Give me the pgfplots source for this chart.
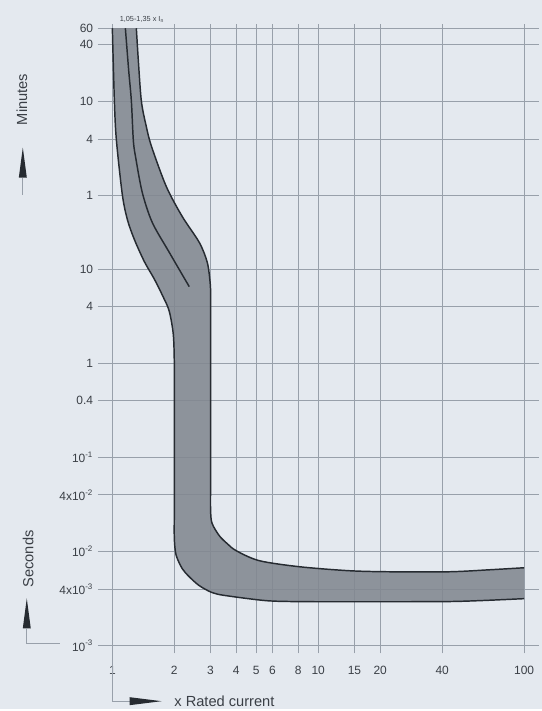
\documentclass[border=0pt]{standalone}
\usepackage{pgfplots}
\pgfplotsset{compat=1.18}
\usepgfplotslibrary{fillbetween}
\usepackage{fontspec}
\setmainfont{Liberation Sans}
\definecolor{bg}{HTML}{E4E9EF}
\definecolor{band}{HTML}{828890}
\definecolor{curve}{HTML}{262B31}
\definecolor{gridc}{HTML}{98A0AA}
\definecolor{txt}{HTML}{3A3F46}
\begin{document}
\begin{tikzpicture}
  \begin{axis}[
    scale only axis, width=331.5pt, height=473pt,
    xmode=log, ymode=log,
    xmin=0.85, xmax=118, ymin=8.3e-4, ymax=4000,
    axis line style={draw=none},
    major tick length=0pt,
    xtick={1,2,3,4,5,6,8,10,15,20,40,100},
    xticklabels={1,2,3,4,5,6,8,10,15,20,40,100},
    ytick={0.001,0.004,0.01,0.04,0.1,0.4,1,4,10,60,240,600,2400,3600},
    yticklabels={10\textsuperscript{-3},4x10\textsuperscript{-3},10\textsuperscript{-2},4x10\textsuperscript{-2},10\textsuperscript{-1},0.4,1,4,10,1,4,10,40,60},
    grid=major,
    major grid style={gridc, line width=0.6pt},
    ticklabel style={font=\fontsize{9}{10}\selectfont, text=txt},
    xticklabel style={yshift=-6pt},
    clip=false,
  ]
    % page background, also fixes the picture size
    \begin{pgfonlayer}{axis background}
      \fill[bg] ([xshift=-73.5pt,yshift=-42pt]axis description cs:0,0)
        rectangle ([xshift=2.25pt,yshift=18pt]axis description cs:1,1);
    \end{pgfonlayer}
    % lower (left) boundary
    \addplot[name path=L, curve, line width=1.1pt, smooth, tension=0.5] coordinates {
      (1.0,3600) (1.023,611) (1.046,236) (1.118,61.7) (1.183,33.5)
      (1.279,20.6) (1.43,12.0) (1.6,7.8) (1.77,5.0) (1.89,3.56)
      (1.977,2.03) (2.0,1.0) (2.0,0.4) (2.0,0.03) (2.0,0.014)
      (2.04,0.0092) (2.187,0.00657) (2.363,0.0054) (2.646,0.00434)
      (3.06,0.00366) (3.574,0.0034) (5.59,0.00301) (8.1,0.00294)
      (14.1,0.00293) (40,0.00294) (60.5,0.00301) (100,0.00316)
    };
    % upper (right) boundary
    \addplot[name path=R, curve, line width=1.1pt, smooth, tension=0.5] coordinates {
      (1.308,3600) (1.337,1660) (1.383,611) (1.46,330) (1.55,200)
      (1.829,75) (2.187,36) (2.646,19.1) (2.893,11.7) (2.99,6.9)
      (3.0,4.8) (3.0,1.0) (3.0,0.06) (3.0,0.028) (3.05,0.0200)
      (3.31,0.0147) (3.62,0.0121) (4.0,0.0102) (5.17,0.0080)
      (8.1,0.0069) (14.1,0.00626) (22.2,0.0061) (43.3,0.0061)
      (67.6,0.0064) (100,0.00673)
    };
    \addplot[fill=band, fill opacity=0.88, draw=none] fill between[of=L and R];
    % middle curve
    \addplot[curve, line width=1.1pt, smooth, tension=0.5] coordinates {
      (1.157,3600) (1.2,1300) (1.237,611) (1.265,230) (1.30,150)
      (1.398,64.8) (1.563,31.2) (1.891,15.0) (2.363,6.5)
    };

    \node[font=\fontsize{5.5}{6}\selectfont, text=txt, anchor=south, inner sep=1pt]
      at (axis description cs:0.10,1.0) {1,05-1,35 x I\textsubscript{n}};

    \node[rotate=90, font=\fontsize{11}{12}\selectfont, text=txt]
      at (axis description cs:-0.172,0.88) {Minutes};
    \node[rotate=90, font=\fontsize{11}{12}\selectfont, text=txt]
      at (axis description cs:-0.158,0.150) {Seconds};
    \node[anchor=west, font=\fontsize{11}{12}\selectfont, text=txt]
      at (axis description cs:0.163,-0.076) {x Rated current};

    \coordinate (mA) at (axis description cs:-0.170,0.756);
    \coordinate (mB) at (axis description cs:-0.170,0.729);
    \coordinate (sA) at (axis description cs:-0.161,0.0396);
    \coordinate (sB) at (axis description cs:-0.161,0.0158);
    \coordinate (sC) at (axis description cs:-0.086,0.0158);
    \coordinate (xA) at (axis description cs:0.0724,-0.076);
    \coordinate (xB) at (axis description cs:0.034,-0.076);
    \coordinate (xC) at (axis description cs:0.034,0);
  \end{axis}
  % arrows beside the axis titles
  \fill[curve] ([xshift=-3pt]mA) -- ([xshift=3pt]mA) -- ([yshift=22.5pt]mA) -- cycle;
  \draw[gridc, line width=0.5pt] (mA) -- (mB);
  \fill[curve] ([xshift=-3pt]sA) -- ([xshift=3pt]sA) -- ([yshift=22.5pt]sA) -- cycle;
  \draw[gridc, line width=0.5pt] (sA) -- (sB) -- (sC);
  \draw[gridc, line width=0.5pt] (xC) -- (xB) -- (xA);
  \fill[curve] ([yshift=-3pt]xA) -- ([yshift=3pt]xA) -- ([xshift=24pt]xA) -- cycle;
\end{tikzpicture}
\end{document}
